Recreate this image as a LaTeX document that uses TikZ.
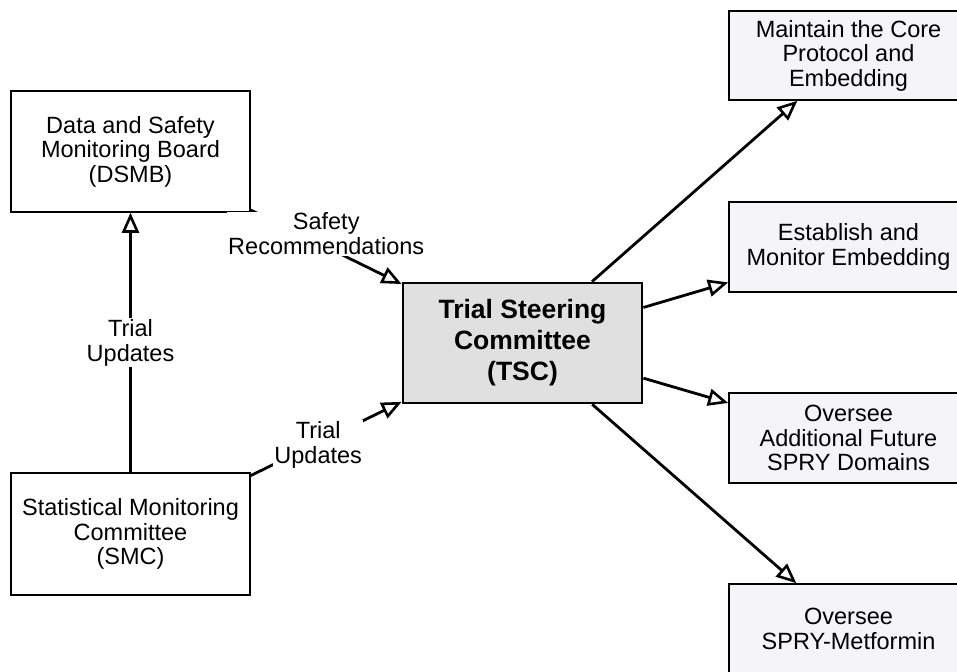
\documentclass[tikz,border=0pt]{standalone}
\usepackage{fontspec}
\setmainfont{Liberation Sans}
\usetikzlibrary{arrows.meta}

\definecolor{tscgray}{HTML}{E0E0E0}
\definecolor{taskgray}{HTML}{F5F5F7}

\begin{document}
\begin{tikzpicture}[x=1pt,y=-1pt,
    box/.style={draw, line width=1.6pt, fill=white, minimum width=239pt, align=center, inner sep=0pt, font=\fontsize{23.5}{24.5}\selectfont},
    taskbox/.style={box, fill=taskgray, minimum height=90pt},
    arr/.style={line width=2.8pt, -{Triangle[open, length=20pt, width=17pt, line width=2.6pt]}},
    lbl/.style={fill=white, inner sep=1pt, align=center, font=\fontsize{23.5}{25}\selectfont}]
        \useasboundingbox (0,0) rectangle (957,671);
        % left side boards
        \node[box, minimum height=121pt] (dsmb) at (130.5,151.5) {Data and Safety\\Monitoring Board\\(DSMB)};
        \node[box, minimum height=122pt] (smc) at (130.5,534) {Statistical Monitoring\\Committee\\(SMC)};
        % steering committee
        \node[box, fill=tscgray, line width=2.8pt, minimum height=120pt, font=\fontsize{26.5}{31}\selectfont\bfseries] (tsc) at (522.5,343) {Trial Steering\\Committee\\(TSC)};
        % tasks on the right
        \node[taskbox, minimum height=89pt] (core) at (848.5,55.5) {Maintain the Core\\Protocol and\\Embedding};
        \node[taskbox] (embed) at (848.5,247) {Establish and\\Monitor Embedding};
        \node[taskbox] (future) at (848.5,438) {Oversee\\Additional Future\\SPRY Domains};
        \node[taskbox] (metformin) at (848.5,629) {Oversee\\SPRY-Metformin};
        % connectors
        \draw[arr] (smc) -- node[lbl]{Trial\\Updates} (dsmb);
        \draw[arr] (dsmb) -- node[lbl, yshift=13pt]{Safety\\Recommendations} (tsc);
        \draw[arr] (smc) -- node[lbl, xshift=-8pt, yshift=-6pt]{Trial\\Updates} (tsc);
        \draw[arr] (tsc) -- (core);
        \draw[arr] (tsc) -- (embed);
        \draw[arr] (tsc) -- (future);
        \draw[arr] (tsc) -- (metformin);
\end{tikzpicture}
\end{document}
